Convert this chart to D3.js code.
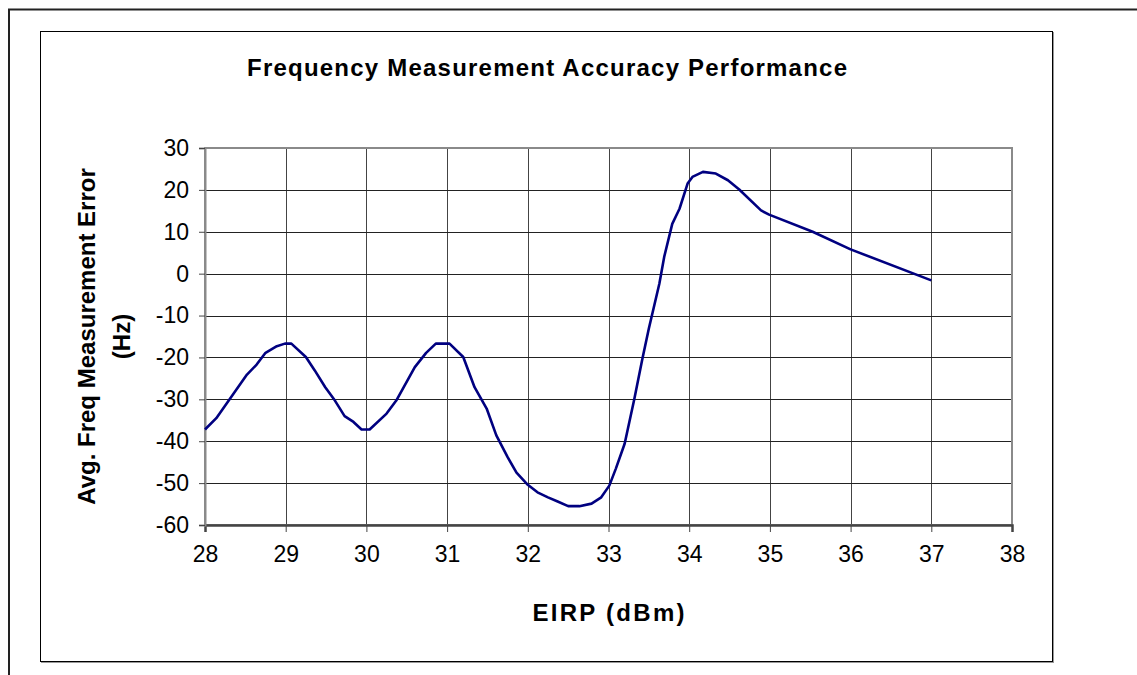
<!DOCTYPE html>
<html><head><meta charset="utf-8">
<script src="https://cdn.jsdelivr.net/npm/d3@7"></script>
<style>html,body{margin:0;padding:0;background:#fff;}svg{display:block;}</style>
</head><body>
<script>
const titleText = "Frequency Measurement Accuracy Performance";
const xTitle = "EIRP (dBm)";
const yTitleLines = ["Avg. Freq Measurement Error", "(Hz)"];
const xTicks = [28, 29, 30, 31, 32, 33, 34, 35, 36, 37, 38];
const yTicks = [-60, -50, -40, -30, -20, -10, 0, 10, 20, 30];
const eirp = [28, 28.14, 28.52, 28.64, 28.75, 28.89, 28.99, 29.07, 29.25, 29.36, 29.49, 29.61, 29.73, 29.84, 29.94, 30.04, 30.25, 30.37, 30.6, 30.74, 30.86, 31.03, 31.2, 31.34, 31.49, 31.61, 31.75, 31.86, 32.0, 32.12, 32.25, 32.37, 32.5, 32.64, 32.79, 32.91, 33.01, 33.09, 33.2, 33.32, 33.42, 33.5, 33.63, 33.69, 33.79, 33.88, 33.98, 34.04, 34.17, 34.33, 34.48, 34.62, 34.89, 34.99, 35.53, 36, 37];
const freqError = [-37.2, -34.5, -24.1, -21.7, -18.9, -17.3, -16.7, -16.7, -19.9, -23.1, -27.1, -30.3, -34, -35.4, -37.2, -37.2, -33.4, -30.3, -22.3, -18.9, -16.7, -16.7, -19.9, -27.1, -32.2, -38.6, -43.8, -47.5, -50.4, -52.2, -53.4, -54.4, -55.5, -55.5, -54.9, -53.4, -50.6, -46.6, -40.6, -29.9, -20.3, -13.1, -2.4, 4, 11.9, 15.5, 21.5, 23.1, 24.3, 23.9, 22.3, 20.1, 15.1, 14.1, 10, 5.8, -1.6];

const W = 1137, H = 675;
const svg = d3.select("body").append("svg").attr("width", W).attr("height", H);
const font = "'Liberation Sans', Arial, sans-serif";

// outer frame (extends beyond viewport right/bottom)
svg.append("rect").attr("x", 9).attr("y", 9.5).attr("width", 1400).attr("height", 900)
  .attr("fill", "none").attr("stroke", "#222").attr("stroke-width", 2);

// inner chart frame with shadow
svg.append("rect").attr("x", 41.5).attr("y", 32.5).attr("width", 1012).attr("height", 630)
  .attr("fill", "none").attr("stroke", "#999").attr("stroke-width", 1);
svg.append("rect").attr("x", 40.5).attr("y", 31.5).attr("width", 1012).attr("height", 630)
  .attr("fill", "#fff").attr("stroke", "#000").attr("stroke-width", 1);

const L = 205, R = 1012, T = 148, B = 525;
const x = d3.scaleLinear().domain([28, 38]).range([L, R]);
const y = d3.scaleLinear().domain([-60, 30]).range([B, T]);
const fmt = d => String(d);

// gridlines
svg.append("g").selectAll("line").data(xTicks.slice(1, -1)).join("line")
  .attr("x1", d => Math.round(x(d)) + 0.5).attr("x2", d => Math.round(x(d)) + 0.5)
  .attr("y1", T).attr("y2", B).attr("stroke", "#444").attr("stroke-width", 1);
svg.append("g").selectAll("line").data(yTicks.slice(1, -1)).join("line")
  .attr("y1", d => Math.round(y(d)) + 0.5).attr("y2", d => Math.round(y(d)) + 0.5)
  .attr("x1", L).attr("x2", R).attr("stroke", "#222").attr("stroke-width", 1);

// plot area border
svg.append("rect").attr("x", L).attr("y", T).attr("width", R - L).attr("height", B - T)
  .attr("fill", "none").attr("stroke", "#8a8a8a").attr("stroke-width", 2);

// axes
const xAxis = d3.axisBottom(x).tickValues(xTicks).tickSize(7).tickPadding(14).tickFormat(fmt);
const gx = svg.append("g").attr("transform", `translate(0,${B})`).call(xAxis);
gx.select(".domain").attr("stroke", "#444").attr("stroke-width", 2.5);
gx.selectAll(".tick line").attr("stroke", "#444");
gx.selectAll("text").attr("font-family", font).attr("font-size", 23).attr("fill", "#000");

const yAxis = d3.axisLeft(y).tickValues(yTicks).tickSize(6).tickPadding(10).tickFormat(fmt);
const gy = svg.append("g").attr("transform", `translate(${L},0)`).call(yAxis);
gy.select(".domain").attr("stroke", "#8a8a8a").attr("stroke-width", 2);
gy.selectAll(".tick line").attr("stroke", "#444");
gy.selectAll("text").attr("font-family", font).attr("font-size", 23).attr("fill", "#000");

// data line
const line = d3.line().x((d, i) => x(eirp[i])).y(d => y(d));
svg.append("path").datum(freqError).attr("d", line)
  .attr("fill", "none").attr("stroke", "#000080").attr("stroke-width", 2.6)
  .attr("stroke-linejoin", "round");

// titles
svg.append("text").attr("x", 547).attr("y", 76).attr("text-anchor", "middle")
  .attr("font-family", font).attr("font-weight", "bold").attr("font-size", 24)
  .attr("textLength", 600).attr("lengthAdjust", "spacing").text(titleText);

svg.append("text").attr("x", (L + R) / 2).attr("y", 621).attr("text-anchor", "middle")
  .attr("font-family", font).attr("font-weight", "bold").attr("font-size", 24)
  .attr("textLength", 152).attr("lengthAdjust", "spacing").text(xTitle);

const yt = svg.append("text").attr("transform", `translate(95,${(T + B) / 2}) rotate(-90)`)
  .attr("text-anchor", "middle").attr("font-family", font).attr("font-weight", "bold").attr("font-size", 24);
yTitleLines.forEach((t, i) => yt.append("tspan").attr("x", 0).attr("dy", i === 0 ? 0 : 35).text(t));
</script>
</body></html>
